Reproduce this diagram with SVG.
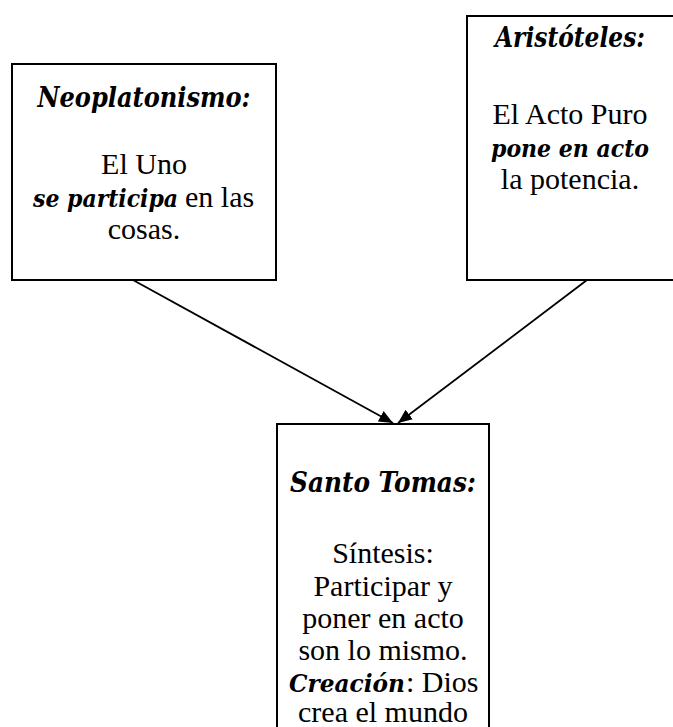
<svg xmlns="http://www.w3.org/2000/svg" width="673" height="727" viewBox="0 0 673 727">
<style>
.box{fill:#fff;stroke:#000;stroke-width:2}
text{font-family:"Liberation Serif","Times New Roman",serif;font-size:30px;fill:#000;text-anchor:middle}
.bi{font-family:"DejaVu Serif","Liberation Serif",serif;font-style:italic;font-weight:bold;font-size:25px}
.t{font-size:27px}
.s{text-anchor:start}
.conn line{stroke:#000;stroke-width:1.8}
</style>
<defs>
<marker id="ah" viewBox="0 0 14 12" refX="14" refY="6" markerWidth="14" markerHeight="12" markerUnits="userSpaceOnUse" orient="auto">
<path d="M0,0 L14,6 L0,12 Z" fill="#000"/>
</marker>
</defs>
<g id="neoplatonismo">
<rect class="box" x="12" y="64" width="264" height="216"/>
<text class="bi t" x="144" y="107" textLength="213" lengthAdjust="spacingAndGlyphs">Neoplatonismo:</text>
<text x="144" y="174">El Uno</text>
<text class="bi s" transform="translate(33,207) scale(0.88,1)" x="0" y="0">se participa</text>
<text class="s" x="185" y="207">en las</text>
<text x="144" y="239">cosas.</text>
</g>
<g id="aristoteles">
<rect class="box" x="467" y="16" width="210" height="264"/>
<text class="bi t" x="570" y="47" textLength="150" lengthAdjust="spacingAndGlyphs">Aristóteles:</text>
<text x="570" y="124">El Acto Puro</text>
<text class="bi" x="570" y="157" textLength="158" lengthAdjust="spacingAndGlyphs">pone en acto</text>
<text x="570" y="189">la potencia.</text>
</g>
<g id="santo-tomas">
<rect class="box" x="277" y="424" width="212" height="310"/>
<text class="bi t" x="383" y="492" textLength="186" lengthAdjust="spacingAndGlyphs">Santo Tomas:</text>
<text x="383" y="563">Síntesis:</text>
<text x="383" y="596">Participar y</text>
<text x="383" y="628">poner en acto</text>
<text x="383" y="660">son lo mismo.</text>
<text class="bi s" transform="translate(289,692) scale(0.93,1)" x="0" y="0">Creación</text>
<text class="s" x="406" y="692">: Dios</text>
<text x="383" y="722">crea el mundo</text>
</g>
<g class="conn" id="connectors">
<line x1="133" y1="280" x2="393" y2="423" marker-end="url(#ah)"/>
<line x1="587" y1="280" x2="398" y2="423" marker-end="url(#ah)"/>
</g>
</svg>
